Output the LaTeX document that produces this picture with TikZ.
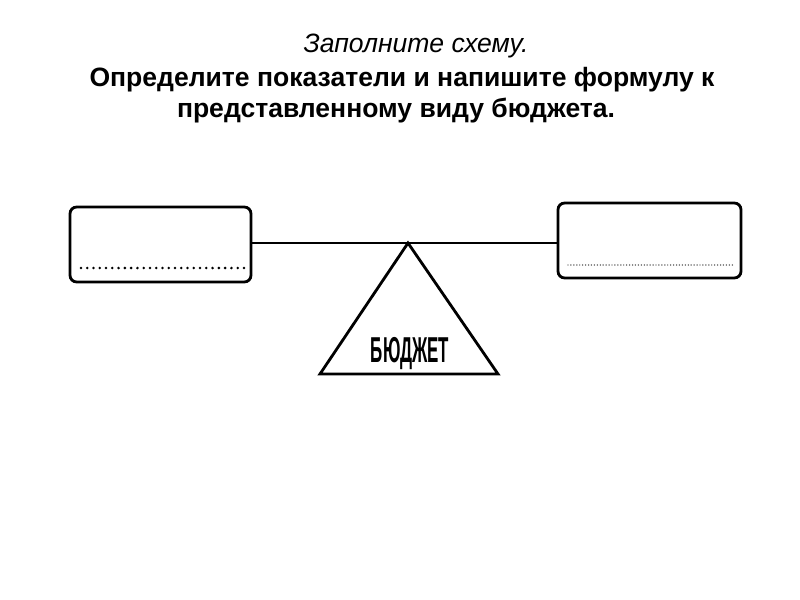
\documentclass[tikz,border=0pt]{standalone}
\usepackage{fontspec}
\setmainfont{Liberation Sans}
\begin{document}
\begin{tikzpicture}[x=0.75pt,y=-0.75pt,
  box/.style={draw=black,line width=2.1pt,rounded corners=5pt},
  beam/.style={draw=black,line width=2.1pt},
  bigdots/.style={draw=black,line width=2.1pt,line cap=round,dash pattern=on 0pt off 4.7pt},
  smalldots/.style={draw=black!80,line width=1.1pt,line cap=round,dash pattern=on 0pt off 2.2pt},
  title/.style={inner sep=0pt,anchor=base}]
\useasboundingbox (0,0) rectangle (800,600);
\fill[white] (0,0) rectangle (800,600);
% title
\node[title,font=\fontsize{19.9}{20}\selectfont\itshape] (t1) at (416,52) {Заполните схему.};
\node[title,font=\fontsize{19.9}{20}\selectfont\bfseries] (t2) at (402,86) {Определите показатели и напишите формулу к};
\node[title,font=\fontsize{19.9}{20}\selectfont\bfseries] (t3) at (396,117) {представленному виду бюджета.};
% boxes
\draw[box] (70,207) rectangle (251,282);
\draw[box] (558,203) rectangle (741,278);
\coordinate (lb) at (251,243);
\coordinate (rb) at (558,243);
\coordinate (apex) at (408,243);
\coordinate (bl) at (320,374);
\coordinate (br) at (498,374);
\draw[beam] (lb) -- (rb);
\draw[beam,line join=miter] (apex) -- (br) -- (bl) -- cycle;
% dotted lines
\coordinate (ld1) at (81,268);
\coordinate (ld2) at (245,268);
\coordinate (rd1) at (568,265);
\coordinate (rd2) at (733,265);
\draw[bigdots] (ld1) -- (ld2);
\draw[smalldots] (rd1) -- (rd2);
% label
\node[inner sep=0pt,anchor=base] (bud) at (410,362) {\scalebox{0.47}[1]{\fontsize{27}{27}\selectfont\bfseries БЮДЖЕТ}};
\end{tikzpicture}
\end{document}
